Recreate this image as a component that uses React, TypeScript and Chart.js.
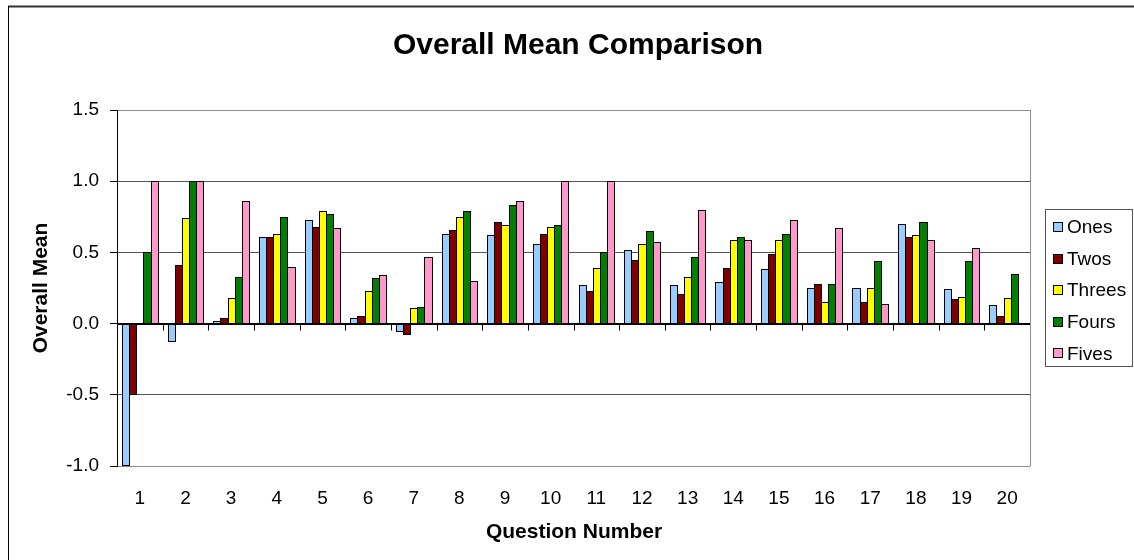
import React, { useEffect, useRef } from "react";
import { Chart, registerables } from "chart.js";

Chart.register(...registerables);

// Question numbers on the category axis
const questions = [
  "1", "2", "3", "4", "5", "6", "7", "8", "9", "10",
  "11", "12", "13", "14", "15", "16", "17", "18", "19", "20",
];

// Mean score per question for each respondent group
const ones = [-1.0, -0.13, 0.02, 0.61, 0.73, 0.04, -0.06, 0.63, 0.62, 0.56, 0.27, 0.52, 0.27, 0.29, 0.38, 0.25, 0.25, 0.70, 0.24, 0.13];
const twos = [-0.5, 0.41, 0.04, 0.61, 0.68, 0.05, -0.08, 0.66, 0.71, 0.63, 0.23, 0.45, 0.21, 0.39, 0.49, 0.28, 0.15, 0.61, 0.17, 0.05];
const threes = [null, 0.74, 0.18, 0.63, 0.79, 0.23, 0.11, 0.75, 0.69, 0.68, 0.39, 0.56, 0.33, 0.59, 0.59, 0.15, 0.25, 0.62, 0.19, 0.18];
const fours = [0.5, 1.0, 0.33, 0.75, 0.77, 0.32, 0.12, 0.79, 0.83, 0.69, 0.50, 0.65, 0.47, 0.61, 0.63, 0.28, 0.44, 0.71, 0.44, 0.35];
const fives = [1.0, 1.0, 0.86, 0.40, 0.67, 0.34, 0.47, 0.30, 0.86, 1.0, 1.0, 0.57, 0.80, 0.59, 0.73, 0.67, 0.14, 0.59, 0.53, null];

const seriesNames = ["Ones", "Twos", "Threes", "Fours", "Fives"];
const seriesColors = ["#99CCFF", "#800000", "#FFFF00", "#008000", "#FF99CC"];

// Y axis range and step
const yMin = -1.0;
const yMax = 1.5;
const yStep = 0.5;

const titleText = "Overall Mean Comparison";
const xTitle = "Question Number";
const yTitle = "Overall Mean";

const FONT = '"Liberation Sans", Arial, sans-serif';

// Snap bar rectangles to whole pixels so the outlines stay crisp and
// neighbouring bars share a single outline column.
const snapBarsPlugin = {
  id: "snapBars",
  afterDatasetsUpdate(chart: any) {
    chart.data.datasets.forEach((_: any, i: number) => {
      const meta = chart.getDatasetMeta(i);
      meta.data.forEach((el: any) => {
        if (!isFinite(el.x) || !isFinite(el.y) || !isFinite(el.base)) return;
        const l = Math.round(el.x - el.width / 2);
        const r = Math.round(el.x + el.width / 2) + 1;
        el.x = (l + r) / 2;
        el.width = r - l;
        const up = el.y < el.base;
        el.y = Math.round(el.y);
        el.base = Math.round(el.base) + (up ? 1 : 0);
      });
    });
  },
  afterDatasetsDraw(chart: any) {
    const { ctx } = chart;
    ctx.save();
    ctx.strokeStyle = "#000";
    ctx.lineWidth = 1;
    chart.data.datasets.forEach((_: any, i: number) => {
      const meta = chart.getDatasetMeta(i);
      meta.data.forEach((el: any) => {
        if (!isFinite(el.x) || !isFinite(el.y) || !isFinite(el.base)) return;
        const l = el.x - el.width / 2;
        const top = Math.min(el.y, el.base);
        const h = Math.abs(el.base - el.y);
        if (h < 1) return;
        ctx.strokeRect(l + 0.5, top + 0.5, el.width - 1, h - 1);
      });
    });
    ctx.restore();
  },
};

const decorPlugin = {
  id: "decor",
  beforeDraw(chart: any) {
    const { ctx, width, height } = chart;
    ctx.save();
    ctx.fillStyle = "#ffffff";
    ctx.fillRect(0, 0, width, height);
    ctx.restore();
  },
  afterDatasetsDraw(chart: any) {
    const { ctx, chartArea: a, scales } = chart;
    const y0 = Math.round(scales.y.getPixelForValue(0)) + 0.5;
    ctx.save();
    // category axis crossing at zero
    ctx.strokeStyle = "#000";
    ctx.lineWidth = 1;
    ctx.beginPath();
    ctx.moveTo(a.left, y0);
    ctx.lineTo(a.right, y0);
    // tick marks between categories
    const n = questions.length;
    for (let i = 0; i <= n; i++) {
      const x = Math.round(a.left + (i * (a.right - a.left)) / n) + 0.5;
      ctx.moveTo(x, y0);
      ctx.lineTo(x, y0 + 6);
    }
    ctx.stroke();
    // plot area right edge
    ctx.strokeStyle = "#8c8c8c";
    ctx.beginPath();
    ctx.moveTo(Math.round(a.right) + 0.5, a.top);
    ctx.lineTo(Math.round(a.right) + 0.5, a.bottom);
    ctx.stroke();
    ctx.restore();
  },
  afterDraw(chart: any) {
    const { ctx, chartArea: a } = chart;
    ctx.save();
    ctx.fillStyle = "#000";
    // chart title
    ctx.font = `bold 30px ${FONT}`;
    ctx.textAlign = "center";
    ctx.textBaseline = "middle";
    ctx.fillText(titleText, 578, 46);
    // axis titles
    ctx.font = `bold 21px ${FONT}`;
    ctx.fillText(xTitle, 574, 532);
    ctx.save();
    ctx.translate(41, (a.top + a.bottom) / 2);
    ctx.rotate(-Math.PI / 2);
    ctx.fillText(yTitle, 0, 0);
    ctx.restore();

    // legend
    const lx = 1045, ly = 209, lw = 87, lh = 157;
    ctx.strokeStyle = "#555";
    ctx.lineWidth = 1;
    ctx.strokeRect(lx + 0.5, ly + 0.5, lw, lh);
    ctx.font = `19px ${FONT}`;
    ctx.textAlign = "left";
    ctx.textBaseline = "middle";
    seriesNames.forEach((name, i) => {
      const cy = 227 + i * 31.6;
      ctx.fillStyle = seriesColors[i];
      ctx.fillRect(1053, Math.round(cy - 5), 10, 10);
      ctx.strokeStyle = "#000";
      ctx.strokeRect(1053.5, Math.round(cy - 5) + 0.5, 9, 9);
      ctx.fillStyle = "#000";
      ctx.fillText(name, 1067, cy + 1);
    });

    // outer frame
    ctx.strokeStyle = "#333";
    ctx.lineWidth = 2;
    ctx.beginPath();
    ctx.moveTo(8, 6.5);
    ctx.lineTo(1134, 6.5);
    ctx.stroke();
    ctx.strokeStyle = "#000";
    ctx.lineWidth = 1;
    ctx.beginPath();
    ctx.moveTo(8.5, 6);
    ctx.lineTo(8.5, 560);
    ctx.stroke();
    ctx.restore();
  },
};

export default function App() {
  const canvasRef = useRef<HTMLCanvasElement | null>(null);

  useEffect(() => {
    if (!canvasRef.current) return;
    const allSeries = [ones, twos, threes, fours, fives];
    const chart = new Chart(canvasRef.current, {
      type: "bar",
      data: {
        labels: questions,
        datasets: allSeries.map((values, i) => ({
          label: seriesNames[i],
          data: values,
          backgroundColor: seriesColors[i],
          borderWidth: 0,
          inflateAmount: 0,
          categoryPercentage: 0.78,
          barPercentage: 1,
        })),
      },
      options: {
        responsive: false,
        animation: false,
        devicePixelRatio: 1,
        layout: { padding: { left: 0, top: 110, right: 104, bottom: 0 } },
        plugins: {
          legend: { display: false },
          title: { display: false },
          tooltip: { enabled: false },
        },
        scales: {
          x: {
            grid: { display: false, drawTicks: false },
            border: { display: false },
            ticks: {
              color: "#000",
              font: { family: FONT, size: 19 },
              padding: 21,
              maxRotation: 0,
              autoSkip: false,
            },
            afterFit(scale: any) {
              scale.height = 94;
            },
          },
          y: {
            min: yMin,
            max: yMax,
            ticks: {
              stepSize: yStep,
              color: "#000",
              font: { family: FONT, size: 19 },
              padding: 11,
              callback: (v: any) => Number(v).toFixed(1),
            },
            grid: {
              color: (c: any) => {
                const v = c.tick ? c.tick.value : 0;
                if (v === yMax || v === yMin) return "#8c8c8c";
                if (v === 0) return "#000";
                return "#555";
              },
              tickColor: "#000",
              tickLength: 7,
              drawTicks: true,
            },
            border: { display: true, color: "#000", width: 1 },
            afterFit(scale: any) {
              scale.width = 117;
            },
          },
        },
      },
      plugins: [snapBarsPlugin, decorPlugin],
    } as any);
    return () => chart.destroy();
  }, []);

  return (
    <div style={{ position: "absolute", left: 0, top: 0, width: 1134, height: 560, background: "#fff" }}>
      <canvas ref={canvasRef} width={1134} height={560} style={{ display: "block" }} />
    </div>
  );
}
